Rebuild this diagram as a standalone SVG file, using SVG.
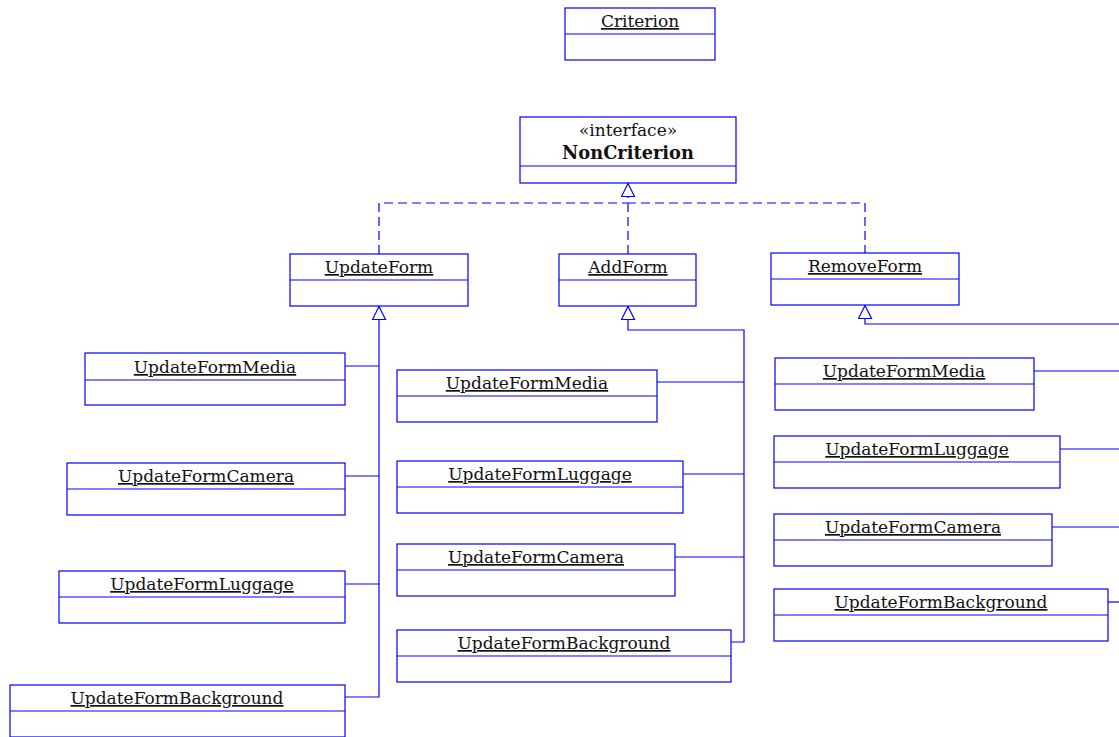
<svg xmlns="http://www.w3.org/2000/svg" width="1119" height="737" viewBox="0 0 1119 737">
  <style>
    .box { fill: #ffffff; stroke: #0000ff; stroke-width: 1.2; }
    .div { stroke: #0000ff; stroke-width: 1.2; }
    .name { font-family: "DejaVu Serif", "Liberation Serif", serif; font-size: 17px; fill: #111111; text-anchor: middle; text-decoration: underline; }
    .stereo { font-family: "DejaVu Serif", "Liberation Serif", serif; font-size: 17px; fill: #111111; text-anchor: middle; }
    .iface { font-family: "DejaVu Serif", "Liberation Serif", serif; font-size: 17.8px; font-weight: bold; fill: #111111; text-anchor: middle; }
    .gen { fill: none; stroke: #0000ff; stroke-width: 1.2; }
    .real { fill: none; stroke: #0000ff; stroke-width: 1.2; stroke-dasharray: 9 5; }
  </style>
  <defs>
    <marker id="hollow" viewBox="0 0 15 15" refX="14" refY="7.5" markerWidth="15" markerHeight="15" markerUnits="userSpaceOnUse" orient="auto">
      <path d="M1,1 L14,7.5 L1,14 Z" fill="#ffffff" stroke="#0000ff" stroke-width="1.2" stroke-dasharray="none"/>
    </marker>
  </defs>

  <rect width="1119" height="737" fill="#ffffff"/>

  <!-- connectors -->
  <g id="connectors">
    <!-- realizations of NonCriterion -->
    <path class="real" d="M379,254 V203 H628"/>
    <path class="real" d="M865,254 V203 H628"/>
    <path class="real" d="M628,254 V183.5" marker-end="url(#hollow)"/>

    <!-- UpdateForm subclasses -->
    <path class="gen" d="M345,366 H379"/>
    <path class="gen" d="M345,476 H379"/>
    <path class="gen" d="M345,584 H379"/>
    <path class="gen" d="M345,697 H379 V306.5" marker-end="url(#hollow)"/>

    <!-- AddForm subclasses -->
    <path class="gen" d="M657,382 H744"/>
    <path class="gen" d="M683,474 H744"/>
    <path class="gen" d="M675,557 H744"/>
    <path class="gen" d="M731,642 H744 V330 H628 V306.5" marker-end="url(#hollow)"/>

    <!-- RemoveForm subclasses -->
    <path class="gen" d="M1034,371 H1125"/>
    <path class="gen" d="M1060,449 H1125"/>
    <path class="gen" d="M1052,527 H1125"/>
    <path class="gen" d="M1108,602 H1125"/>
    <path class="gen" d="M1125,324 H865 V305.5" marker-end="url(#hollow)"/>
  </g>

  <!-- top level -->
  <g id="criterion">
    <rect class="box" x="565" y="8" width="150" height="52"/>
    <line class="div" x1="565" y1="34" x2="715" y2="34"/>
    <text class="name" x="640" y="27">Criterion</text>
  </g>

  <g id="non-criterion">
    <rect class="box" x="520" y="117" width="216" height="66"/>
    <line class="div" x1="520" y1="166" x2="736" y2="166"/>
    <text class="stereo" x="628" y="136">«interface»</text>
    <text class="iface" x="628" y="159">NonCriterion</text>
  </g>

  <!-- form classes -->
  <g id="update-form">
    <rect class="box" x="290" y="254" width="178" height="52"/>
    <line class="div" x1="290" y1="280" x2="468" y2="280"/>
    <text class="name" x="379" y="273">UpdateForm</text>
  </g>

  <g id="add-form">
    <rect class="box" x="559" y="254" width="137" height="52"/>
    <line class="div" x1="559" y1="280" x2="696" y2="280"/>
    <text class="name" x="628" y="273">AddForm</text>
  </g>

  <g id="remove-form">
    <rect class="box" x="771" y="253" width="188" height="52"/>
    <line class="div" x1="771" y1="279" x2="959" y2="279"/>
    <text class="name" x="865" y="272">RemoveForm</text>
  </g>

  <!-- UpdateForm column -->
  <g id="uf-media">
    <rect class="box" x="85" y="353" width="260" height="52"/>
    <line class="div" x1="85" y1="380" x2="345" y2="380"/>
    <text class="name" x="215" y="373">UpdateFormMedia</text>
  </g>
  <g id="uf-camera">
    <rect class="box" x="67" y="463" width="278" height="52"/>
    <line class="div" x1="67" y1="489" x2="345" y2="489"/>
    <text class="name" x="206" y="482">UpdateFormCamera</text>
  </g>
  <g id="uf-luggage">
    <rect class="box" x="59" y="571" width="286" height="52"/>
    <line class="div" x1="59" y1="597" x2="345" y2="597"/>
    <text class="name" x="202" y="590">UpdateFormLuggage</text>
  </g>
  <g id="uf-background">
    <rect class="box" x="10" y="685" width="335" height="52"/>
    <line class="div" x1="10" y1="711" x2="345" y2="711"/>
    <text class="name" x="177" y="704">UpdateFormBackground</text>
  </g>

  <!-- AddForm column -->
  <g id="af-media">
    <rect class="box" x="397" y="370" width="260" height="52"/>
    <line class="div" x1="397" y1="396" x2="657" y2="396"/>
    <text class="name" x="527" y="389">UpdateFormMedia</text>
  </g>
  <g id="af-luggage">
    <rect class="box" x="397" y="461" width="286" height="52"/>
    <line class="div" x1="397" y1="487" x2="683" y2="487"/>
    <text class="name" x="540" y="480">UpdateFormLuggage</text>
  </g>
  <g id="af-camera">
    <rect class="box" x="397" y="544" width="278" height="52"/>
    <line class="div" x1="397" y1="570" x2="675" y2="570"/>
    <text class="name" x="536" y="563">UpdateFormCamera</text>
  </g>
  <g id="af-background">
    <rect class="box" x="397" y="630" width="334" height="52"/>
    <line class="div" x1="397" y1="656" x2="731" y2="656"/>
    <text class="name" x="564" y="649">UpdateFormBackground</text>
  </g>

  <!-- RemoveForm column -->
  <g id="rf-media">
    <rect class="box" x="775" y="358" width="259" height="52"/>
    <line class="div" x1="775" y1="384" x2="1034" y2="384"/>
    <text class="name" x="904" y="377">UpdateFormMedia</text>
  </g>
  <g id="rf-luggage">
    <rect class="box" x="774" y="436" width="286" height="52"/>
    <line class="div" x1="774" y1="462" x2="1060" y2="462"/>
    <text class="name" x="917" y="455">UpdateFormLuggage</text>
  </g>
  <g id="rf-camera">
    <rect class="box" x="774" y="514" width="278" height="52"/>
    <line class="div" x1="774" y1="540" x2="1052" y2="540"/>
    <text class="name" x="913" y="533">UpdateFormCamera</text>
  </g>
  <g id="rf-background">
    <rect class="box" x="774" y="589" width="334" height="52"/>
    <line class="div" x1="774" y1="615" x2="1108" y2="615"/>
    <text class="name" x="941" y="608">UpdateFormBackground</text>
  </g>
</svg>
